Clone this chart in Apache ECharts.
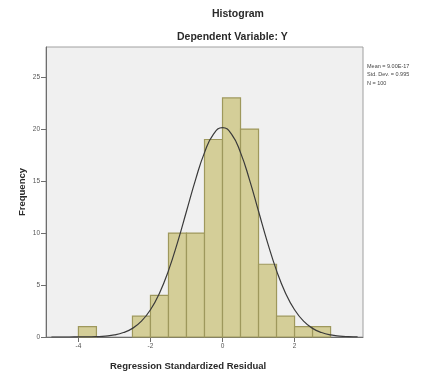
<!DOCTYPE html>
<html>
<head>
<meta charset="utf-8">
<script src="https://cdn.jsdelivr.net/npm/echarts@6/dist/echarts.min.js"></script>
<style>
  html, body { margin: 0; padding: 0; background: #fff; }
  #chart { width: 428px; height: 375px; }
</style>
</head>
<body>
<div id="chart"></div>
<script>
// histogram bins (left edge, width 0.5) and counts
const binStarts = [-4.0, -2.5, -2.0, -1.5, -1.0, -0.5, 0.0, 0.5, 1.0, 1.5, 2.0, 2.5];
const counts    = [1, 2, 4, 10, 10, 19, 23, 20, 7, 2, 1, 1];
const binWidth = 0.5;

// fitted normal curve, read at quarter steps
const curveX = [-4.75, -4.5, -4.25, -4, -3.75, -3.5, -3.25, -3, -2.75, -2.5, -2.25, -2, -1.75, -1.5, -1.25, -1, -0.75, -0.5, -0.25,
  0, 0.25, 0.5, 0.75, 1, 1.25, 1.5, 1.75, 2, 2.25, 2.5, 2.75, 3, 3.25, 3.5, 3.75];
const curveY = [0.0, 0.0, 0.0, 0.01, 0.015, 0.04, 0.09, 0.2, 0.43, 0.83, 1.52, 2.62, 4.22, 6.39, 9.08, 12.1, 15.12, 17.74, 19.52,
  20.15, 19.52, 17.74, 15.12, 12.1, 9.08, 6.39, 4.22, 2.62, 1.52, 0.83, 0.43, 0.2, 0.09, 0.04, 0.015];

const xTicks = [-4, -2, 0, 2];
const yTicks = [0, 5, 10, 15, 20, 25];
const statsLines = ['Mean = 9.00E-17', 'Std. Dev. = 0.995', 'N = 100'];

const FILL = '#d4ce98';
const EDGE = '#9e985c';
const AXIS = '#6e6e6e';
const INK = '#2a2a2a';
const FONT = '"Liberation Sans", Arial, sans-serif';

const chart = echarts.init(document.getElementById('chart'), null, { renderer: 'canvas' });

chart.setOption({
  animation: false,
  grid: {
    left: 46, right: 65, top: 47, bottom: 38,
    show: true, backgroundColor: '#f0f0f0', borderColor: '#a0a0a0', borderWidth: 1,
  },
  graphic: [
    { type: 'text', left: 212, top: 9, style: { text: 'Histogram', font: 'bold 10.5px ' + FONT, fill: INK } },
    { type: 'text', left: 177, top: 32, style: { text: 'Dependent Variable: Y', font: 'bold 10.5px ' + FONT, fill: INK } },
    { type: 'text', left: 367, top: 62, style: { text: statsLines.join('\n'), font: '5.5px ' + FONT, lineHeight: 8.5, fill: '#444' } },
    {
      type: 'text', x: 22, y: 192, rotation: Math.PI / 2,
      style: { text: 'Frequency', font: 'bold 9.5px ' + FONT, fill: INK, align: 'center', verticalAlign: 'middle' },
    },
    { type: 'text', left: 110, top: 361, style: { text: 'Regression Standardized Residual', font: 'bold 9.5px ' + FONT, fill: INK } },
  ],
  xAxis: {
    type: 'value', min: -4.9, max: 3.9,
    splitLine: { show: false },
    axisLine: { onZero: false, lineStyle: { color: AXIS, width: 1 } },
    axisTick: { show: true, customValues: xTicks, length: 5, lineStyle: { color: AXIS } },
    axisLabel: { customValues: xTicks, color: '#555', fontSize: 6.5, fontFamily: FONT, margin: 6 },
  },
  yAxis: {
    type: 'value', min: 0, max: 27.9,
    splitLine: { show: false },
    axisLine: { show: true, onZero: false, lineStyle: { color: AXIS, width: 1 } },
    axisTick: { show: true, customValues: yTicks, length: 5, lineStyle: { color: AXIS } },
    axisLabel: { customValues: yTicks, color: '#555', fontSize: 6.5, fontFamily: FONT, margin: 6 },
  },
  series: [
    {
      type: 'custom',
      data: binStarts.map((s, i) => [s, counts[i]]),
      renderItem: (params, api) => {
        const x0 = api.value(0);
        const p0 = api.coord([x0, api.value(1)]);
        const p1 = api.coord([x0 + binWidth, 0]);
        return {
          type: 'rect',
          shape: { x: p0[0], y: p0[1], width: p1[0] - p0[0], height: p1[1] - p0[1] },
          style: { fill: FILL, stroke: EDGE, lineWidth: 1.2 },
        };
      },
      z: 2,
    },
    {
      type: 'line',
      data: curveX.map((x, i) => [x, curveY[i]]),
      smooth: true, showSymbol: false,
      lineStyle: { color: '#3a3a3a', width: 1.2 },
      z: 3,
    },
  ],
});
</script>
</body>
</html>
